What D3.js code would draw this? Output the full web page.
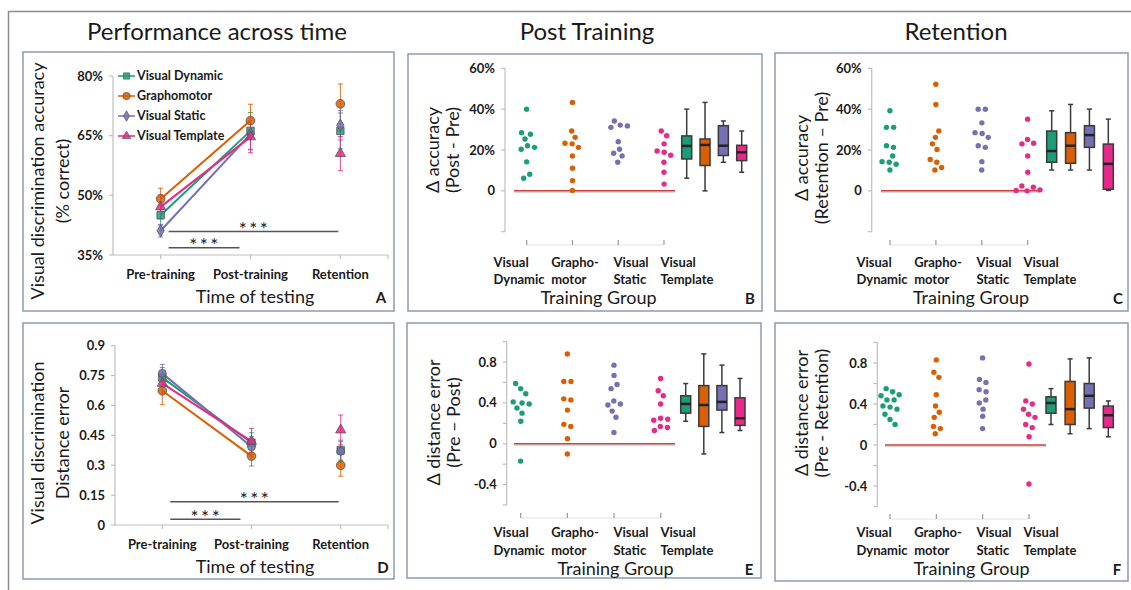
<!DOCTYPE html>
<html><head><meta charset="utf-8">
<script src="https://cdn.jsdelivr.net/npm/d3@7"></script>
<style>
body{margin:0;background:#fff}
svg{display:block}
text{font-family:Lato,"Open Sans",sans-serif;fill:#1a1a1a}
</style>
</head><body>
<svg id="c" width="1131" height="590"></svg>
<script>
// ---------- data ----------
const groups = ["Visual Dynamic", "Graphomotor", "Visual Static", "Visual Template"];
const groupLabels = [["Visual", "Dynamic"], ["Grapho-", "motor"], ["Visual", "Static"], ["Visual", "Template"]];
const times = ["Pre-training", "Post-training", "Retention"];

// Panel A: accuracy (%) at each time
const accVD = [45.0, 66.2, 66.2];
const accG  = [49.1, 68.8, 73.0];
const accVS = [41.1, 65.4, 67.6];
const accVT = [47.1, 64.7, 60.5];
const accErrVD = [2.5, 4.6, 4.5];
const accErrG  = [2.7, 4.1, 5.0];
const accErrVS = [1.6, 4.0, 3.7];
const accErrVT = [3.0, 4.0, 4.3];
const accTicks = [35, 50, 65, 80];
const accSig = [40.9, 36.8];

// Panel D: distance error
const distVD = [0.740, 0.413, 0.376];
const distG  = [0.674, 0.346, 0.300];
const distVS = [0.761, 0.393, 0.370];
const distVT = [0.711, 0.420, 0.477];
const distErrVD = [0.050, 0.050, 0.050];
const distErrG  = [0.070, 0.050, 0.055];
const distErrVS = [0.045, 0.050, 0.050];
const distErrVT = [0.050, 0.065, 0.075];
const distTicks = [0, 0.15, 0.3, 0.45, 0.6, 0.75, 0.9];
const distSig = [0.117, 0.029];

// Panel B: delta accuracy post - pre (%)
const postAccVD = [40.0, 28.5, 27.7, 25.4, 22.1, 21.3, 20.4, 14.2, 8.1, 6.2];
const postAccG  = [43.3, 29.3, 26.2, 23.3, 23.0, 21.3, 17.1, 11.1, 5.0, 0.2];
const postAccVS = [34.2, 32.2, 31.8, 31.1, 24.1, 20.4, 18.4, 17.1, 14.0];
const postAccVT = [29.3, 27.0, 23.0, 19.5, 18.9, 17.4, 14.0, 9.1, 3.3];
// box stats [min, q1, median, q3, max]
const boxPostAccVD = [6.2, 15.6, 22.0, 26.9, 40.0];
const boxPostAccG  = [0.0, 12.4, 22.5, 25.4, 43.3];
const boxPostAccVS = [14.0, 17.3, 22.1, 31.9, 34.2];
const boxPostAccVT = [9.1, 14.8, 18.9, 22.3, 29.3];

// Panel C: delta accuracy retention - pre (%)
const retAccVD = [39.2, 31.1, 31.1, 22.1, 21.3, 17.1, 14.3, 14.0, 13.0, 10.2];
const retAccG  = [52.2, 42.3, 29.3, 26.2, 23.0, 20.3, 15.4, 14.0, 11.4, 10.2];
const retAccVS = [40.0, 40.0, 33.3, 28.5, 28.1, 26.2, 22.1, 21.3, 14.3, 10.2];
const retAccVT = [35.1, 25.2, 23.3, 23.0, 17.1, 9.1, 2.4, 1.8, 0.5, 0.2, 0.0];
const boxRetAccVD = [10.2, 14.0, 19.5, 29.3, 39.2];
const boxRetAccG  = [10.2, 13.5, 22.1, 28.5, 42.3];
const boxRetAccVS = [10.2, 21.3, 27.3, 31.9, 40.0];
const boxRetAccVT = [0.2, 0.8, 13.2, 22.9, 35.1];
const accDeltaTicks = [-20, 0, 20, 40, 60];

// Panel E: delta distance error pre - post
const postErrVD = [0.59, 0.54, 0.49, 0.41, 0.40, 0.39, 0.35, 0.30, 0.22, -0.17];
const postErrG  = [0.88, 0.61, 0.61, 0.44, 0.43, 0.33, 0.19, 0.17, 0.05, -0.10];
const postErrVS = [0.77, 0.67, 0.58, 0.54, 0.42, 0.39, 0.38, 0.32, 0.26, 0.11];
const postErrVT = [0.64, 0.52, 0.47, 0.39, 0.25, 0.24, 0.23, 0.17, 0.16, 0.13];
const boxPostErrVD = [0.22, 0.30, 0.39, 0.47, 0.59];
const boxPostErrG  = [-0.10, 0.17, 0.38, 0.57, 0.88];
const boxPostErrVS = [0.11, 0.33, 0.41, 0.57, 0.77];
const boxPostErrVT = [0.13, 0.18, 0.25, 0.45, 0.64];

// Panel F: delta distance error pre - retention
const retErrVD = [0.55, 0.52, 0.49, 0.48, 0.44, 0.44, 0.38, 0.37, 0.35, 0.30, 0.25, 0.20];
const retErrG  = [0.83, 0.71, 0.66, 0.49, 0.38, 0.32, 0.27, 0.18, 0.16, 0.11];
const retErrVS = [0.85, 0.64, 0.61, 0.54, 0.52, 0.44, 0.41, 0.35, 0.28, 0.16];
const retErrVT = [0.79, 0.43, 0.40, 0.35, 0.30, 0.27, 0.20, 0.17, 0.08, -0.38];
const boxRetErrVD = [0.20, 0.31, 0.41, 0.47, 0.55];
const boxRetErrG  = [0.11, 0.20, 0.35, 0.62, 0.84];
const boxRetErrVS = [0.16, 0.36, 0.48, 0.60, 0.85];
const boxRetErrVT = [0.08, 0.17, 0.29, 0.38, 0.43];
const distDeltaTicks = [-0.6, -0.4, -0.2, 0, 0.2, 0.4, 0.6, 0.8, 1.0];
const distDeltaLabeled = [-0.4, 0, 0.4, 0.8];

// ---------- drawing ----------
const svg = d3.select("#c");
const colors = ["#1b9e77", "#d95f02", "#7570b3", "#e7298a"];
const AXIS = "#bfbfbf";

// outer frame
svg.append("line").attr("x1", 8.5).attr("y1", 11.5).attr("x2", 1131).attr("y2", 11.5).attr("stroke", "#8c8c8c").attr("stroke-width", 1.5);
svg.append("line").attr("x1", 8.5).attr("y1", 11).attr("x2", 8.5).attr("y2", 590).attr("stroke", "#8c8c8c").attr("stroke-width", 1.5);

// panel boxes
[[23, 52, 394, 311], [408, 54, 762, 311], [775, 53, 1128, 311],
 [23, 323, 394, 579], [407, 323, 761, 578], [775, 323, 1128, 581]].forEach(b => {
  svg.append("rect").attr("x", b[0]).attr("y", b[1]).attr("width", b[2] - b[0]).attr("height", b[3] - b[1])
    .attr("fill", "none").attr("stroke", "#8a9ab5").attr("stroke-width", 1.5);
});

// column titles
[["Performance across time", 217], ["Post Training", 587], ["Retention", 956]].forEach(t => {
  svg.append("text").attr("x", t[1]).attr("y", 40).attr("text-anchor", "middle")
    .attr("font-size", 24).text(t[0]);
});

function rotLabel(lines, xs, y, size) {
  lines.forEach((l, i) => {
    svg.append("text").attr("transform", `translate(${xs[i]},${y}) rotate(-90)`)
      .attr("text-anchor", "middle").attr("dy", "0.35em").attr("font-size", size).text(l);
  });
}

function sigText(g, x, y) {
  g.append("text").attr("x", x).attr("y", y + 4.5).attr("text-anchor", "middle")
    .attr("font-size", 19).attr("letter-spacing", 2.5).attr("fill", "#333").text("***");
}

function linePanel(cfg) {
  const y = d3.scaleLinear().domain(cfg.yDomain).range(cfg.yRange);
  const x = d3.scalePoint().domain(times).range([cfg.axisX, cfg.axisRight]).padding(0.53);
  const g = svg.append("g");
  const y0 = cfg.yRange[0];
  // y axis
  g.append("line").attr("x1", cfg.axisX).attr("x2", cfg.axisX).attr("y1", y0).attr("y2", cfg.yRange[1]).attr("stroke", AXIS).attr("stroke-width", 1.2);
  cfg.ticks.forEach(t => {
    g.append("line").attr("x1", cfg.axisX - 4).attr("x2", cfg.axisX).attr("y1", y(t)).attr("y2", y(t)).attr("stroke", AXIS).attr("stroke-width", 1.2);
    g.append("text").attr("x", cfg.axisX - 10).attr("y", y(t)).attr("dy", "0.35em").attr("text-anchor", "end")
      .attr("font-size", 13).attr("font-weight", 700).text(cfg.fmt(t));
  });
  // x axis
  g.append("line").attr("x1", cfg.axisX).attr("x2", cfg.axisRight).attr("y1", y0).attr("y2", y0).attr("stroke", AXIS).attr("stroke-width", 1.2);
  times.map(x).concat([cfg.axisRight]).forEach(px => {
    g.append("line").attr("x1", px).attr("x2", px).attr("y1", y0).attr("y2", y0 + 4).attr("stroke", AXIS).attr("stroke-width", 1.2);
  });
  times.forEach(t => {
    g.append("text").attr("x", x(t)).attr("y", y0 + 24).attr("text-anchor", "middle")
      .attr("font-size", 13).attr("font-weight", 700).text(t);
  });
  g.append("text").attr("x", cfg.titleX).attr("y", cfg.titleY).attr("text-anchor", "middle").attr("font-size", 18).text("Time of testing");
  g.append("text").attr("x", cfg.letterX).attr("y", cfg.titleY).attr("text-anchor", "middle").attr("font-size", 15).attr("font-weight", 700).text(cfg.letter);
  rotLabel(cfg.ylab, [38, 63], cfg.ylabY, 18);

  // significance bars
  const xPre = x(times[0]) + 8;
  [[times[2], cfg.sig[0], -2], [times[1], cfg.sig[1], -11]].forEach(s => {
    const x2 = x(s[0]) + s[2];
    g.append("line").attr("x1", xPre).attr("x2", x2).attr("y1", y(s[1])).attr("y2", y(s[1])).attr("stroke", "#555").attr("stroke-width", 1.5);
    sigText(g, (xPre + x2) / 2 + 1, y(s[1]));
  });

  // connecting lines (pre -> post)
  cfg.series.forEach((vals, i) => {
    g.append("path").datum(vals.slice(0, 2))
      .attr("d", d3.line().x((d, j) => x(times[j])).y(d => y(d)))
      .attr("fill", "none").attr("stroke", colors[i]).attr("stroke-width", 2);
  });
  // error bars
  cfg.series.forEach((vals, i) => {
    vals.forEach((v, j) => {
      const px = x(times[j]), e = cfg.errs[i][j];
      g.append("line").attr("x1", px).attr("x2", px).attr("y1", y(v - e)).attr("y2", y(v + e)).attr("stroke", colors[i]).attr("stroke-width", 1).attr("opacity", 0.85);
      [v - e, v + e].forEach(c => g.append("line").attr("x1", px - 2.5).attr("x2", px + 2.5).attr("y1", y(c)).attr("y2", y(c)).attr("stroke", colors[i]).attr("stroke-width", 1).attr("opacity", 0.85));
    });
  });
  // markers
  cfg.series.forEach((vals, i) => {
    vals.forEach((v, j) => {
      g.append("path").attr("d", d3.symbol().type(cfg.symbols[i]).size(cfg.sizes[i])())
        .attr("transform", `translate(${x(times[j])},${y(v)})`)
        .attr("fill", colors[i]).attr("fill-opacity", 0.85).attr("stroke", "#555").attr("stroke-width", 0.8);
    });
  });
  // legend
  if (cfg.legend) {
    groups.forEach((gname, i) => {
      const ly = 76 + i * 20;
      g.append("line").attr("x1", 118).attr("x2", 135).attr("y1", ly).attr("y2", ly).attr("stroke", colors[i]).attr("stroke-width", 1.5);
      g.append("path").attr("d", d3.symbol().type(cfg.symbols[i]).size(cfg.sizes[i] * 0.7)())
        .attr("transform", `translate(126.5,${ly})`).attr("fill", colors[i]).attr("fill-opacity", 0.85).attr("stroke", "#555").attr("stroke-width", 0.7);
      g.append("text").attr("x", 137).attr("y", ly).attr("dy", "0.35em").attr("font-size", 12.5).attr("font-weight", 700).text(gname);
    });
  }
}

function stripPanel(cfg) {
  const y = d3.scaleLinear().domain(cfg.yDomain).range(cfg.yRange);
  const xt = d3.scalePoint().domain(groups).range(cfg.tickRange);
  const xl = d3.scalePoint().domain(groups).range(cfg.labelRange);
  const xb = d3.scalePoint().domain(groups).range(cfg.boxRange);
  const g = svg.append("g");
  const yb = cfg.yRange[0];
  // y axis
  g.append("line").attr("x1", cfg.axisX).attr("x2", cfg.axisX).attr("y1", yb).attr("y2", cfg.yRange[1]).attr("stroke", AXIS).attr("stroke-width", 1.2);
  cfg.ticks.forEach(t => {
    g.append("line").attr("x1", cfg.axisX - 4).attr("x2", cfg.axisX).attr("y1", y(t)).attr("y2", y(t)).attr("stroke", AXIS).attr("stroke-width", 1.2);
    const lab = cfg.fmt(t);
    if (lab !== "") g.append("text").attr("x", cfg.axisX - 10).attr("y", y(t)).attr("dy", "0.35em").attr("text-anchor", "end")
      .attr("font-size", 13).attr("font-weight", 700).text(lab);
  });
  // x axis (category ticks)
  g.append("line").attr("x1", cfg.tickRange[0]).attr("x2", cfg.tickRange[1]).attr("y1", cfg.tickY[1]).attr("y2", cfg.tickY[1]).attr("stroke", "#e2e2e2").attr("stroke-width", 1);
  groups.forEach(gr => {
    g.append("line").attr("x1", xt(gr)).attr("x2", xt(gr)).attr("y1", cfg.tickY[0]).attr("y2", cfg.tickY[1]).attr("stroke", "#9a9a9a").attr("stroke-width", 1.2);
  });
  // category labels: block centred, lines left-aligned
  groups.forEach((gr, i) => {
    const lg = g.append("g");
    const ts = groupLabels[i].map((l, k) => lg.append("text").attr("y", k === 0 ? cfg.lab1 : cfg.lab2)
      .attr("font-size", 13).attr("font-weight", 700).text(l));
    const maxW = d3.max(ts, t => t.node().getComputedTextLength());
    ts.forEach(t => t.attr("x", xl(gr) - maxW / 2));
  });
  g.append("text").attr("x", cfg.titleX).attr("y", cfg.titleY).attr("text-anchor", "middle").attr("font-size", 18).text("Training Group");
  g.append("text").attr("x", cfg.letterX).attr("y", cfg.titleY).attr("text-anchor", "middle").attr("font-size", 15).attr("font-weight", 700).text(cfg.letter);
  rotLabel(cfg.ylab, cfg.ylabX, cfg.ylabY, 18);

  // zero line
  g.append("line").attr("x1", cfg.red[0]).attr("x2", cfg.red[1]).attr("y1", y(0) + 1.5).attr("y2", y(0) + 1.5).attr("stroke", "#d8d8d8").attr("stroke-width", 1.5);
  g.append("line").attr("x1", cfg.red[0]).attr("x2", cfg.red[1]).attr("y1", y(0)).attr("y2", y(0)).attr("stroke", "#c9413e").attr("stroke-width", 1.5);

  // strip points with beeswarm jitter
  cfg.data.forEach((vals, i) => {
    const cx = xt(groups[i]);
    const nodes = vals.map((v, k) => ({ v, x: cx + ((k % 3) - 1) * 2.5, y: y(v), fy: y(v) }));
    const sim = d3.forceSimulation(nodes)
      .force("x", d3.forceX(cx).strength(0.05))
      .force("c", d3.forceCollide(3.6))
      .stop();
    for (let t = 0; t < 250; t++) sim.tick();
    g.selectAll(null).data(nodes).join("circle")
      .attr("cx", d => d.x).attr("cy", d => y(d.v)).attr("r", 2.7).attr("fill", colors[i]);
  });

  // box plots
  cfg.boxes.forEach((b, i) => {
    const cx = xb(groups[i]), w = 10, cap = 5;
    g.append("line").attr("x1", cx).attr("x2", cx).attr("y1", y(b[0])).attr("y2", y(b[4])).attr("stroke", "#3a3a3a").attr("stroke-width", 1.5);
    [b[0], b[4]].forEach(c => g.append("line").attr("x1", cx - cap / 2).attr("x2", cx + cap / 2).attr("y1", y(c)).attr("y2", y(c)).attr("stroke", "#3a3a3a").attr("stroke-width", 1.5));
    g.append("rect").attr("x", cx - w / 2).attr("y", y(b[3])).attr("width", w).attr("height", y(b[1]) - y(b[3]))
      .attr("fill", colors[i]).attr("stroke", "#3a3a3a").attr("stroke-width", 1.5);
    g.append("line").attr("x1", cx - w / 2).attr("x2", cx + w / 2).attr("y1", y(b[2])).attr("y2", y(b[2])).attr("stroke", "#222").attr("stroke-width", 2.5);
  });
}

const pctFmt = t => t < 0 ? "" : (t === 0 ? "0" : t + "%");
const distFmt = t => distDeltaLabeled.some(l => Math.abs(l - t) < 1e-9) ? (Math.abs(t) < 1e-9 ? "0" : String(+t.toFixed(1))) : "";

linePanel({
  yDomain: [35, 80], yRange: [255, 76], axisX: 113, axisRight: 388, ticks: accTicks, fmt: t => t + "%",
  series: [accVD, accG, accVS, accVT], errs: [accErrVD, accErrG, accErrVS, accErrVT], sig: accSig,
  symbols: [d3.symbolSquare, d3.symbolCircle, d3.symbolDiamond, d3.symbolTriangle], sizes: [55, 60, 45, 45],
  ylab: ["Visual discrimination  accuracy", "(% correct)"], ylabY: 181,
  titleX: 255, titleY: 303, letter: "A", letterX: 381, legend: true
});
linePanel({
  yDomain: [0, 0.9], yRange: [525, 345.7], axisX: 115, axisRight: 388, ticks: distTicks, fmt: t => t === 0 ? "0" : String(t),
  series: [distVD, distG, distVS, distVT], errs: [distErrVD, distErrG, distErrVS, distErrVT], sig: distSig,
  symbols: [d3.symbolSquare, d3.symbolCircle, d3.symbolCircle, d3.symbolTriangle], sizes: [55, 60, 50, 45],
  ylab: ["Visual discrimination", "Distance error"], ylabY: 443,
  titleX: 255, titleY: 573, letter: "D", letterX: 383, legend: false
});

stripPanel({
  yDomain: [-20, 60], yRange: [231.7, 68.3], axisX: 505, ticks: accDeltaTicks, fmt: pctFmt,
  tickRange: [526.7, 664], labelRange: [519, 687], tickY: [240, 245], lab1: 266.5, lab2: 283.5,
  red: [514, 675], boxRange: [686.7, 741.7],
  data: [postAccVD, postAccG, postAccVS, postAccVT], boxes: [boxPostAccVD, boxPostAccG, boxPostAccVS, boxPostAccVT],
  ylab: ["Δ accuracy", "(Post - Pre)"], ylabX: [433, 453], ylabY: 150,
  titleX: 598.5, titleY: 304, letter: "B", letterX: 750
});
stripPanel({
  yDomain: [-20, 60], yRange: [231.7, 68.3], axisX: 871.7, ticks: accDeltaTicks, fmt: pctFmt,
  tickRange: [890, 1027.7], labelRange: [882, 1050], tickY: [240, 245], lab1: 266.5, lab2: 283.5,
  red: [881, 1040], boxRange: [1051.7, 1108.3],
  data: [retAccVD, retAccG, retAccVS, retAccVT], boxes: [boxRetAccVD, boxRetAccG, boxRetAccVS, boxRetAccVT],
  ylab: ["Δ accuracy", "(Retention – Pre)"], ylabX: [801.7, 821.7], ylabY: 158,
  titleX: 971, titleY: 304, letter: "C", letterX: 1118
});
stripPanel({
  yDomain: [-0.6, 1.0], yRange: [505, 341.7], axisX: 506.7, ticks: distDeltaTicks, fmt: distFmt,
  tickRange: [520.7, 660.7], labelRange: [519, 687], tickY: [513, 518], lab1: 537, lab2: 554.5,
  red: [514, 675], boxRange: [685.7, 740],
  data: [postErrVD, postErrG, postErrVS, postErrVT], boxes: [boxPostErrVD, boxPostErrG, boxPostErrVS, boxPostErrVT],
  ylab: ["Δ distance error", "(Pre – Post)"], ylabX: [433.3, 453.3], ylabY: 422.5,
  titleX: 615.5, titleY: 575, letter: "E", letterX: 749
});
stripPanel({
  yDomain: [-0.6, 1.0], yRange: [506.5, 342.5], axisX: 877.3, ticks: distDeltaTicks, fmt: distFmt,
  tickRange: [890, 1029], labelRange: [882, 1050], tickY: [514, 519], lab1: 537, lab2: 554.5,
  red: [885, 1046], boxRange: [1051, 1108.3],
  data: [retErrVD, retErrG, retErrVS, retErrVT], boxes: [boxRetErrVD, boxRetErrG, boxRetErrVS, boxRetErrVT],
  ylab: ["Δ distance error", "(Pre - Retention)"], ylabX: [801.7, 821.7], ylabY: 413,
  titleX: 971.5, titleY: 575, letter: "F", letterX: 1117
});
</script>
</body></html>
